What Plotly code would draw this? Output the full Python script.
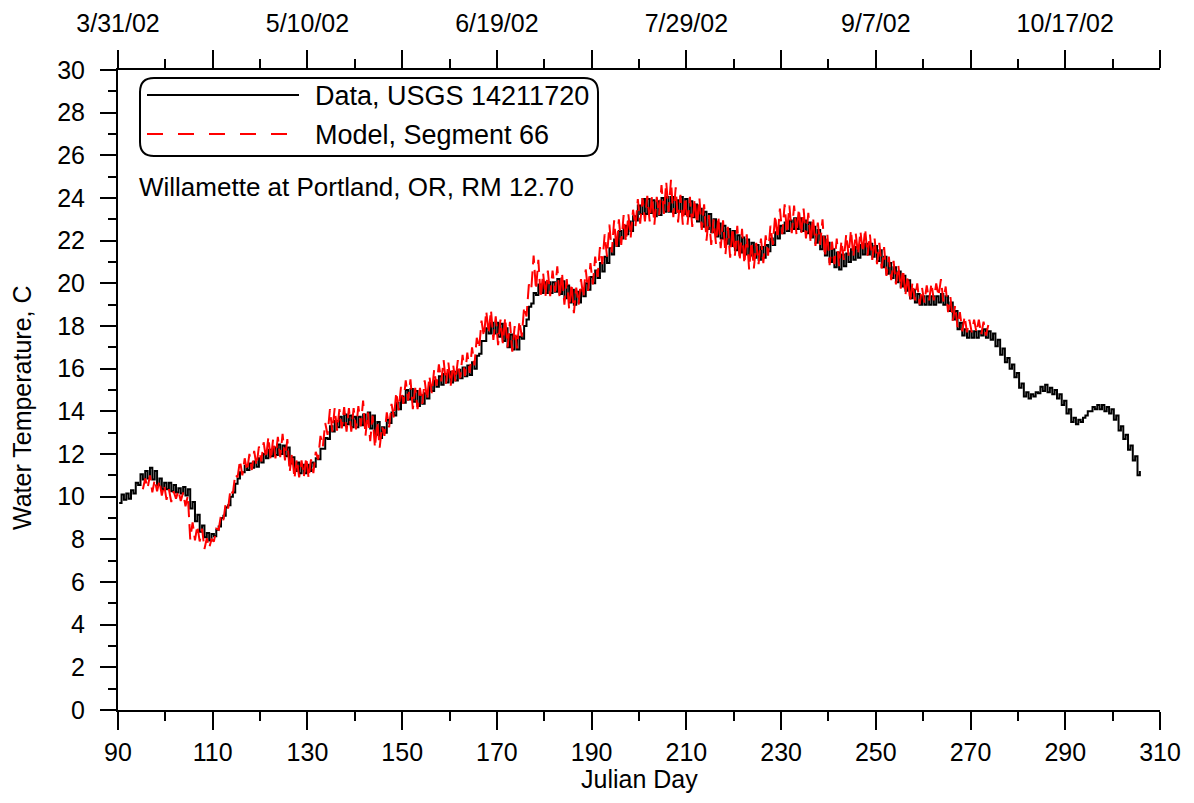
import plotly.graph_objects as go

# ---------------- data ----------------
data_start_day = 90
data_mean = [
    9.9, 10.0, 10.1, 10.4, 10.8, 11.0, 11.1, 11.0, 10.7, 10.5,
    10.5, 10.4, 10.3, 10.3, 10.2, 9.6, 9.0, 8.5, 8.2, 8.1,
    8.3, 8.8, 9.3, 9.8, 10.4, 11.0, 11.3, 11.4, 11.5, 11.6,
    11.8, 12.0, 12.1, 12.2, 12.2, 12.1, 11.7, 11.4, 11.3, 11.3,
    11.4, 11.6, 12.0, 12.5, 13.0, 13.3, 13.5, 13.6, 13.6, 13.5,
    13.5, 13.6, 13.7, 13.5, 13.2, 13.0, 13.3, 13.7, 14.1, 14.4,
    14.7, 14.8, 14.7, 14.5, 14.6, 14.9, 15.2, 15.4, 15.5, 15.6,
    15.6, 15.7, 15.8, 15.9, 16.0, 16.3, 17.0, 17.6, 17.9, 17.9,
    17.8, 17.6, 17.3, 17.2, 17.2, 17.7, 18.6, 19.3, 19.7, 19.8,
    19.8, 19.8, 19.9, 19.8, 19.6, 19.4, 19.3, 19.4, 19.7, 20.0,
    20.3, 20.6, 20.9, 21.3, 21.7, 22.1, 22.4, 22.6, 22.8, 23.3,
    23.6, 23.6, 23.6, 23.5, 23.6, 23.7, 23.7, 23.6, 23.7, 23.6,
    23.5, 23.4, 23.2, 23.0, 22.9, 22.7, 22.5, 22.4, 22.2, 22.1,
    21.9, 21.8, 21.7, 21.6, 21.5, 21.4, 21.5, 21.8, 22.1, 22.4,
    22.6, 22.7, 22.8, 22.8, 22.7, 22.6, 22.4, 22.2, 21.9, 21.6,
    21.3, 21.1, 21.0, 21.1, 21.3, 21.4, 21.5, 21.6, 21.6, 21.5,
    21.3, 21.0, 20.7, 20.5, 20.3, 20.1, 19.9, 19.5, 19.3, 19.2,
    19.2, 19.2, 19.2, 19.3, 19.2, 18.9, 18.5, 18.0, 17.7, 17.6,
    17.6, 17.6, 17.7, 17.6, 17.5, 17.2, 16.8, 16.4, 16.1, 15.7,
    15.2, 14.8, 14.7, 14.8, 15.0, 15.1, 15.0, 14.9, 14.7, 14.4,
    14.0, 13.6, 13.5, 13.6, 13.9, 14.1, 14.2, 14.2, 14.1, 14.0,
    13.7, 13.2, 12.8, 12.3, 11.8, 11.1,
]
data_swing = [
    0.4, 0.3, 0.4, 0.5, 0.5, 0.4, 0.5, 0.4, 0.3, 0.3,
    0.3, 0.3, 0.2, 0.3, 0.3, 0.3, 0.3, 0.3, 0.2, 0.3,
    0.3, 0.4, 0.4, 0.4, 0.4, 0.3, 0.3, 0.3, 0.3, 0.4,
    0.4, 0.4, 0.4, 0.5, 0.4, 0.4, 0.3, 0.4, 0.4, 0.4,
    0.4, 0.4, 0.5, 0.5, 0.6, 0.5, 0.5, 0.5, 0.4, 0.5,
    0.5, 0.5, 0.5, 0.6, 0.6, 0.5, 0.6, 0.5, 0.6, 0.6,
    0.6, 0.5, 0.5, 0.5, 0.5, 0.6, 0.5, 0.5, 0.5, 0.5,
    0.5, 0.5, 0.5, 0.5, 0.6, 0.6, 0.6, 0.6, 0.5, 0.5,
    0.6, 0.6, 0.6, 0.6, 0.6, 0.6, 0.6, 0.5, 0.5, 0.5,
    0.5, 0.5, 0.6, 0.6, 0.6, 0.6, 0.6, 0.6, 0.6, 0.6,
    0.6, 0.7, 0.7, 0.7, 0.7, 0.7, 0.6, 0.6, 0.7, 0.7,
    0.7, 0.7, 0.6, 0.7, 0.8, 0.7, 0.7, 0.6, 0.7, 0.7,
    0.7, 0.6, 0.6, 0.7, 0.7, 0.6, 0.6, 0.6, 0.7, 0.7,
    0.7, 0.7, 0.7, 0.6, 0.6, 0.6, 0.6, 0.6, 0.6, 0.6,
    0.5, 0.5, 0.5, 0.5, 0.5, 0.5, 0.5, 0.6, 0.6, 0.6,
    0.6, 0.7, 0.7, 0.6, 0.6, 0.6, 0.6, 0.5, 0.5, 0.5,
    0.5, 0.5, 0.5, 0.5, 0.5, 0.5, 0.5, 0.4, 0.4, 0.4,
    0.4, 0.4, 0.4, 0.4, 0.4, 0.4, 0.4, 0.3, 0.3, 0.3,
    0.3, 0.3, 0.3, 0.3, 0.3, 0.3, 0.3, 0.2, 0.2, 0.2,
    0.2, 0.2, 0.2, 0.2, 0.3, 0.3, 0.2, 0.2, 0.2, 0.2,
    0.2, 0.2, 0.2, 0.2, 0.2, 0.2, 0.2, 0.2, 0.2, 0.2,
    0.2, 0.2, 0.2, 0.2, 0.2, 0.2,
]

model_start_day = 95
model_mean = [
    10.6, 10.7, 10.5, 10.5, 10.3,
    10.1, 10.0, 10.1, 10.0, 9.8, 8.4, 8.3, 8.2, 7.8, 7.8,
    8.2, 8.8, 9.3, 9.9, 10.6, 11.3, 11.4, 11.6, 11.7, 11.9,
    12.1, 12.3, 12.2, 12.3, 12.4, 12.2, 11.6, 11.3, 11.3, 11.4,
    11.3, 11.6, 12.3, 12.9, 13.5, 13.6, 13.6, 13.7, 13.6, 13.6,
    13.7, 13.9, 13.4, 13.2, 12.9, 12.8, 13.4, 13.8, 14.3, 14.6,
    14.9, 15.0, 14.6, 14.6, 14.9, 15.1, 15.4, 15.7, 15.9, 15.8,
    15.7, 15.9, 16.1, 16.2, 16.4, 16.8, 17.6, 18.1, 18.2, 17.9,
    17.7, 17.8, 17.6, 17.4, 17.6, 18.2, 19.2, 20.5, 20.4, 19.9,
    20.0, 20.0, 20.2, 19.9, 19.6, 19.4, 19.2, 19.6, 20.0, 20.3,
    20.6, 21.0, 21.6, 22.0, 22.2, 22.3, 22.5, 22.6, 22.8, 23.3,
    23.4, 23.5, 23.5, 23.4, 23.9, 24.0, 24.1, 23.8, 23.5, 23.4,
    23.4, 23.3, 23.4, 23.1, 22.6, 22.4, 22.5, 22.3, 22.0, 21.9,
    22.0, 21.8, 21.6, 21.3, 21.3, 21.5, 21.6, 22.0, 22.5, 22.8,
    23.0, 23.0, 23.0, 22.9, 22.9, 22.7, 22.5, 22.3, 22.4, 21.8,
    21.4, 21.5, 21.4, 21.7, 21.9, 21.8, 21.9, 22.0, 21.8, 21.6,
    21.4, 21.2, 20.8, 20.6, 20.4, 20.2, 19.9, 19.6, 19.6, 19.4,
    19.5, 19.6, 19.6, 19.8, 19.5, 19.0, 18.6, 18.3, 18.1, 18.0,
    18.0, 18.0, 17.9, 17.8,
]
model_swing = [
    0.5, 0.6, 0.6, 0.5, 0.5,
    0.5, 0.5, 0.4, 0.4, 0.5, 0.8, 0.7, 0.6, 0.5, 0.4,
    0.6, 0.7, 0.8, 0.9, 0.9, 0.8, 0.8, 0.8, 0.9, 0.9,
    0.9, 1.0, 1.0, 1.0, 1.1, 1.0, 0.9, 0.9, 0.8, 0.9,
    0.9, 1.0, 1.1, 1.1, 1.2, 1.1, 1.0, 1.0, 1.1, 1.1,
    1.1, 1.2, 1.1, 1.2, 1.2, 1.0, 1.1, 1.1, 1.2, 1.1,
    1.1, 1.0, 1.0, 1.0, 1.1, 1.1, 1.1, 1.0, 1.0, 1.0,
    1.0, 1.0, 1.1, 1.1, 1.2, 1.3, 1.3, 1.2, 1.1, 1.1,
    1.2, 1.2, 1.2, 1.2, 1.3, 1.4, 1.5, 1.6, 1.4, 1.2,
    1.2, 1.2, 1.2, 1.2, 1.2, 1.2, 1.2, 1.2, 1.3, 1.3,
    1.3, 1.4, 1.4, 1.5, 1.5, 1.4, 1.4, 1.3, 1.3, 1.3,
    1.2, 1.2, 1.2, 1.3, 1.4, 1.5, 1.5, 1.4, 1.3, 1.3,
    1.3, 1.3, 1.2, 1.2, 1.2, 1.2, 1.3, 1.3, 1.3, 1.4,
    1.4, 1.5, 1.4, 1.3, 1.2, 1.2, 1.3, 1.4, 1.4, 1.4,
    1.4, 1.3, 1.3, 1.2, 1.2, 1.2, 1.2, 1.1, 1.2, 1.1,
    1.1, 1.2, 1.2, 1.2, 1.2, 1.1, 1.1, 1.1, 1.0, 1.0,
    1.0, 1.0, 0.9, 0.9, 0.9, 0.9, 0.9, 0.9, 0.8, 0.8,
    0.8, 0.8, 0.8, 0.8, 0.7, 0.7, 0.7, 0.7, 0.7, 0.6,
    0.6, 0.6, 0.6, 0.5,
]

top_tick_days = [90, 110, 130, 150, 170, 190, 210, 230, 250, 270, 290, 310]
top_tick_labels = ["3/31/02", "", "5/10/02", "", "6/19/02", "", "7/29/02", "",
                   "9/7/02", "", "10/17/02", ""]

series_names = ["Data, USGS 14211720", "Model, Segment 66"]
site_label = "Willamette at Portland, OR, RM 12.70"


def diurnal(start, means, swings):
    xs, ys = [], []
    for i, (m, s) in enumerate(zip(means, swings)):
        d = start + i
        xs += [d + 0.25, d + 0.75]
        ys += [round(m - s / 2, 2), round(m + s / 2, 2)]
    return xs, ys


dx, dy = diurnal(data_start_day, data_mean, data_swing)
mx, my = diurnal(model_start_day, model_mean, model_swing)

FONT = "Liberation Sans, Arial, sans-serif"
FS = 25
OFF = 8                      # page body margin of the html page
SW, SH = 1194, 803           # screen size
W, H = SW - 2 * OFF, SH - 2 * OFF
# plot area in screen pixels
PL, PR, PT, PB = 118, 1160, 70, 710
L, R, T, B = PL - OFF, W - (PR - OFF), PT - OFF, H - (PB - OFF)
PW, PH = W - L - R, H - T - B


def px(x):
    return (x - PL) / PW


def py(y):
    return (PB - y) / PH


fig = go.Figure()
fig.add_trace(go.Scatter(x=dx, y=dy, mode="lines", name=series_names[0],
                         line=dict(color="black", width=2, shape="hv"),
                         showlegend=False))
fig.add_trace(go.Scatter(x=mx, y=my, mode="lines", name=series_names[1],
                         line=dict(color="#ff0000", width=2, dash="16px,7px"),
                         showlegend=False))

axis_common = dict(showgrid=False, zeroline=False, showline=True, linecolor="black",
                   linewidth=2, ticks="outside", tickcolor="black", tickwidth=2,
                   automargin=False,
                   tickfont=dict(family=FONT, size=FS, color="black"))

fig.update_layout(
    width=W, height=H, autosize=False,
    margin=dict(l=L, r=R, t=T, b=B, pad=0),
    paper_bgcolor="white", plot_bgcolor="white",
    font=dict(family=FONT, size=FS, color="black"),
    xaxis=dict(range=[90, 310], tickmode="linear", tick0=90, dtick=20, ticklen=18,
               minor=dict(tick0=90, dtick=10, ticklen=9, ticks="outside",
                          tickcolor="black", tickwidth=2),
               ticklabelstandoff=1, **axis_common),
    xaxis2=dict(range=[90, 310], overlaying="x", side="top", anchor="y",
                tickmode="array", tickvals=top_tick_days, ticktext=top_tick_labels,
                ticklen=18,
                minor=dict(tick0=90, dtick=10, ticklen=9, ticks="outside",
                           tickcolor="black", tickwidth=2),
                ticklabelstandoff=8, **axis_common),
    yaxis=dict(range=[0, 30], tickmode="linear", tick0=0, dtick=2, ticklen=16,
               minor=dict(tick0=0, dtick=1, ticklen=8, ticks="outside",
                          tickcolor="black", tickwidth=2),
               ticklabelstandoff=10, **axis_common),
)
# empty trace bound to the top axis so that it is rendered
fig.add_trace(go.Scatter(x=[None], y=[None], xaxis="x2", yaxis="y", showlegend=False,
                         hoverinfo="skip"))

# legend box (rounded)
x0, x1, y0, y1, r = 140, 598, 78, 156, 14
path = (f"M {px(x0 + r)},{py(y0)} L {px(x1 - r)},{py(y0)} "
        f"Q {px(x1)},{py(y0)} {px(x1)},{py(y0 + r)} L {px(x1)},{py(y1 - r)} "
        f"Q {px(x1)},{py(y1)} {px(x1 - r)},{py(y1)} L {px(x0 + r)},{py(y1)} "
        f"Q {px(x0)},{py(y1)} {px(x0)},{py(y1 - r)} L {px(x0)},{py(y0 + r)} "
        f"Q {px(x0)},{py(y0)} {px(x0 + r)},{py(y0)} Z")
fig.add_shape(type="path", path=path, xref="paper", yref="paper",
              line=dict(color="black", width=2), fillcolor="white", layer="above")
fig.add_shape(type="line", xref="paper", yref="paper", x0=px(147), x1=px(299),
              y0=py(95), y1=py(95), line=dict(color="black", width=2))
fig.add_shape(type="line", xref="paper", yref="paper", x0=px(147), x1=px(293),
              y0=py(134), y1=py(134), line=dict(color="#ff0000", width=2, dash="16px,15px"))
LFS = 27
fig.add_annotation(x=px(313), y=py(96), xref="paper", yref="paper", text=series_names[0],
                   showarrow=False, xanchor="left", yanchor="middle",
                   font=dict(family=FONT, size=LFS, color="black"))
fig.add_annotation(x=px(313), y=py(135), xref="paper", yref="paper", text=series_names[1],
                   showarrow=False, xanchor="left", yanchor="middle",
                   font=dict(family=FONT, size=LFS, color="black"))
fig.add_annotation(x=px(137), y=py(187), xref="paper", yref="paper", text=site_label,
                   showarrow=False, xanchor="left", yanchor="middle",
                   font=dict(family=FONT, size=LFS - 1, color="black"))

# axis titles
fig.add_annotation(x=px(639), y=py(779), xref="paper", yref="paper", text="Julian Day",
                   showarrow=False, xanchor="center", yanchor="middle",
                   font=dict(family=FONT, size=FS, color="black"))
fig.add_annotation(x=px(22), y=py(408), xref="paper", yref="paper",
                   text="Water Temperature, C", textangle=-90,
                   showarrow=False, xanchor="center", yanchor="middle",
                   font=dict(family=FONT, size=FS, color="black"))

fig.write_html("out.html")
